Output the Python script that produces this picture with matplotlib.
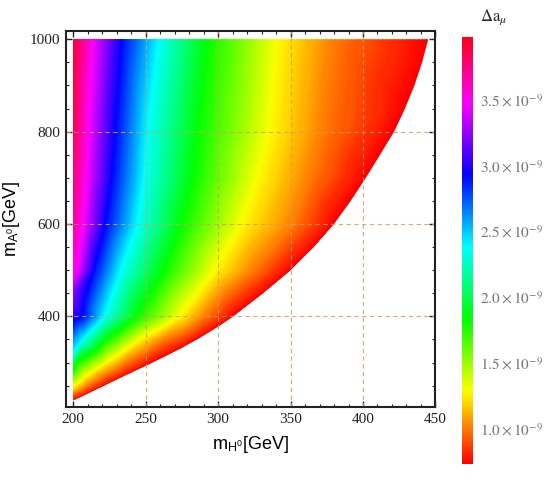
import numpy as np
import matplotlib
matplotlib.use("Agg")
import matplotlib.pyplot as plt
import matplotlib.tri as mtri
from matplotlib.patches import Polygon
from matplotlib.colors import Normalize
from matplotlib.cm import ScalarMappable

# ---------------- data, Delta a_mu in units of 1e-9 ----------------
vmin, vmax = 0.73, 3.98
# iso-colour levels (magenta, blue, cyan, green, yellow, orange)
levels = [3.44, 2.90, 2.36, 1.81, 1.27, 1.00]
rows_y = [1000, 800, 700, 600, 500, 400, 350, 300, 250]
# x position (m_H0) where each level crosses each row
row_x = [
    [214.7, 234.3, 259.7, 294.2, 342.6, 379.5],
    [211.3, 229.7, 251.6, 287.3, 336.9, 372.6],
    [210.0, 227.4, 249.3, 283.9, 328.8, 363.4],
    [207.8, 222.8, 244.7, 275.8, 317.3, 351.8],
    [203.0, 214.7, 233.2, 263.1, 298.8, 324.2],
    [np.nan, 206.9, 222.0, 244.5, 274.0, 290.5],
    [np.nan, np.nan, 206.7, 222.8, 245.9, 262.0],
    [np.nan, np.nan, np.nan, 202.0, 222.8, 235.5],
    [np.nan, np.nan, np.nan, np.nan, 201.0, 209.0],
]
# values along the left edge m_H0 = 200
edge_y = [1000, 800, 600, 500, 450, 400, 350, 320, 290, 260, 250, 240, 228]
edge_v = [3.92, 3.85, 3.70, 3.52, 3.20, 3.02, 2.60, 2.36, 1.85, 1.45, 1.30, 1.12, 0.88]
# lower-right boundary of the allowed region (value = minimum there)
bnd_x = [200, 210, 222, 235, 250, 265, 275, 287, 300, 310, 331, 350, 366,
         380, 391.5, 402, 411.8, 421.5, 429, 435.5, 440.8, 445]
bnd_y = [218, 233, 251, 271, 293, 316, 332, 353, 378, 399, 450, 500, 550,
         600, 650, 700, 750, 800, 850, 900, 950, 1000]
bnd_v = 0.73

xticks = [200, 250, 300, 350, 400, 450]
yticks = [400, 600, 800, 1000]
cbar_ticks = [1.0, 1.5, 2.0, 2.5, 3.0, 3.5]

# ---------------- assemble scattered samples ----------------
px, py, pv = [], [], []
for yy, xs in zip(rows_y, row_x):
    for lv, xx in zip(levels, xs):
        if not np.isnan(xx):
            px.append(xx); py.append(yy); pv.append(lv)
for yy, vv in zip(edge_y, edge_v):
    px.append(200); py.append(yy); pv.append(vv)
for xx, yy in zip(bnd_x, bnd_y):
    px.append(xx); py.append(yy); pv.append(bnd_v)
px, py, pv = np.array(px, float), np.array(py, float), np.array(pv, float)

# Delaunay in normalised coordinates
tri_n = mtri.Triangulation((px - 200) / 250.0, (py - 200) / 800.0)
tri = mtri.Triangulation(px, py, triangles=tri_n.triangles)

# ---------------- figure ----------------
plt.rcParams['mathtext.fontset'] = 'stix'
fig = plt.figure(figsize=(5.45, 4.91), dpi=100)
ax = fig.add_axes([0.121, 0.171, 0.678, 0.766])

cmap = plt.get_cmap('hsv')
lv = np.linspace(vmin - 0.05, vmax + 0.05, 300)
cs = ax.tricontourf(tri, pv, levels=lv, cmap=cmap, vmin=vmin, vmax=vmax,
                    extend='both', zorder=1, antialiased=False)

region = Polygon(np.column_stack([bnd_x + [200], bnd_y + [1000]]),
                 closed=True, transform=ax.transData, facecolor='none', edgecolor='none')
ax.add_patch(region)
cs.set_clip_path(region)

ax.set_xlim(195, 450)
ax.set_ylim(203.6, 1018)

# grid
gc = '#d79b62'
for gx in [250, 300, 350, 400]:
    ax.axvline(gx, color=gc, ls=(0, (4, 3)), lw=0.8, alpha=0.85, zorder=2)
for gy in [400, 600, 800]:
    ax.axhline(gy, color=gc, ls=(0, (4, 3)), lw=0.8, alpha=0.85, zorder=2)

ax.set_xticks(xticks)
ax.set_yticks(yticks)
ax.set_xticks(np.arange(200, 451, 10), minor=True)
ax.set_yticks(np.arange(250, 1001, 50), minor=True)
ax.tick_params(which='both', direction='in', top=True, right=True, colors='#222222')
ax.tick_params(which='major', length=4, width=1.0, labelsize=11, pad=4)
ax.tick_params(which='minor', length=2.5, width=0.8)
for lab in ax.get_xticklabels() + ax.get_yticklabels():
    lab.set_family('Liberation Serif')
for s in ax.spines.values():
    s.set_linewidth(1.5)
    s.set_color('#222222')

ax.set_xlabel(r'm$_{\mathregular{H^0}}$[GeV]', fontsize=13, family='Liberation Sans',
              labelpad=6)
ax.set_ylabel(r'm$_{\mathregular{A^0}}$[GeV]', fontsize=13, family='Liberation Sans',
              labelpad=6)

# colorbar
cax = fig.add_axes([0.848, 0.055, 0.02, 0.870])
sm = ScalarMappable(norm=Normalize(vmin, vmax), cmap=cmap)
cb = fig.colorbar(sm, cax=cax)
cb.outline.set_visible(False)
cb.set_ticks(cbar_ticks)
cb.set_ticklabels([r'$%.1f\times10^{-9}$' % t for t in cbar_ticks])
cax.tick_params(length=0, labelsize=11, colors='#777777', pad=5)
fig.text(0.905, 0.965, r'$\Delta\mathrm{a}_\mu$', ha='center', va='center',
         fontsize=12, color='#222222')

fig.savefig('out.png', dpi=100)
